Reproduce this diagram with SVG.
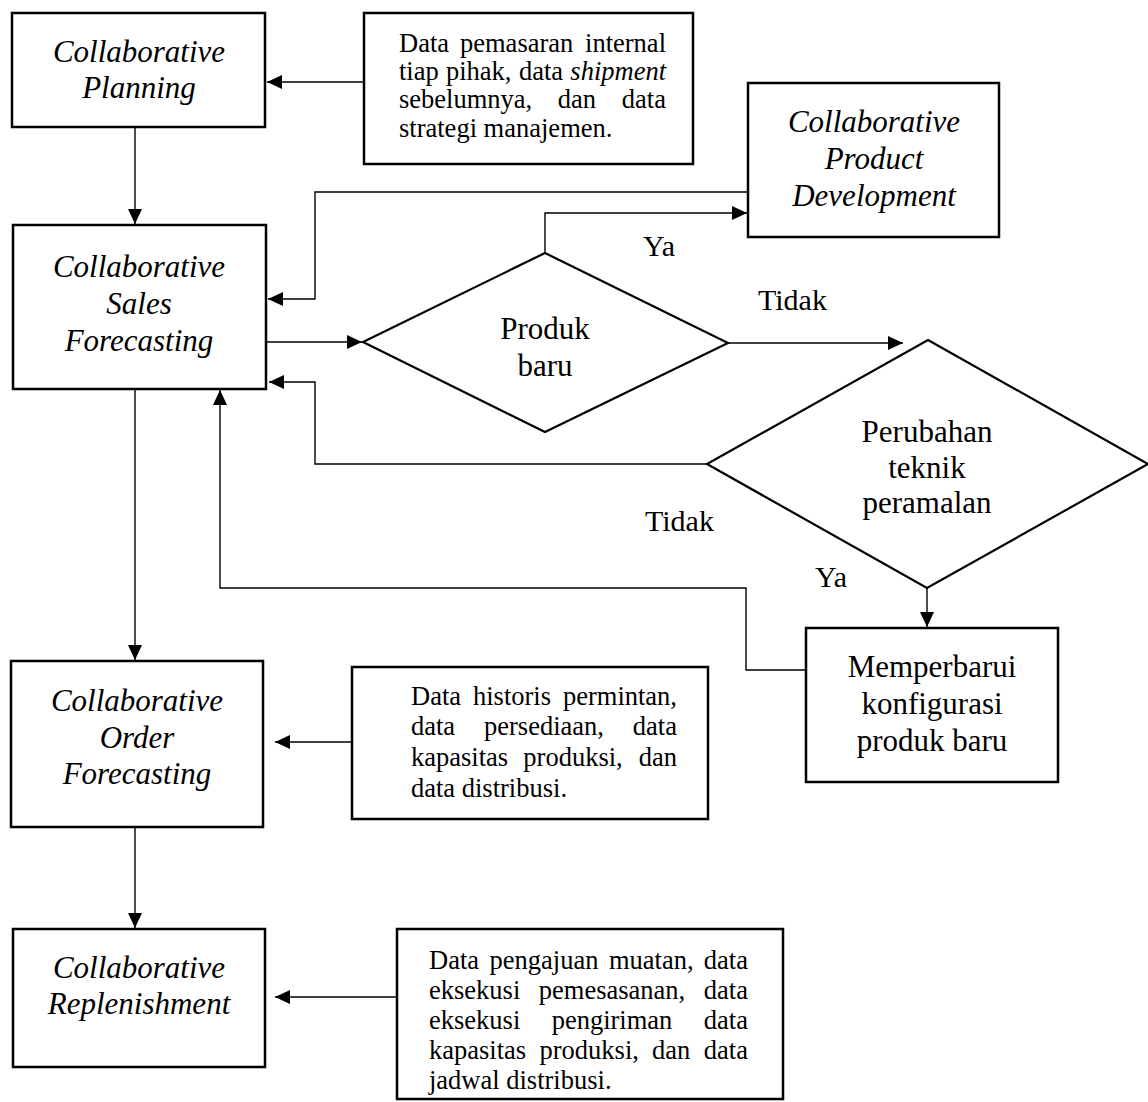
<svg xmlns="http://www.w3.org/2000/svg" width="1148" height="1102" viewBox="0 0 1148 1102">
<style>
.box{fill:#fff;stroke:#000;stroke-width:2.5}
.dia{fill:#fff;stroke:#000;stroke-width:2.2}
.con{fill:none;stroke:#000;stroke-width:1.4}
.it{font-family:"Liberation Serif","Times New Roman",serif;font-style:italic;font-size:31px;text-anchor:middle;fill:#000}
.rg{font-family:"Liberation Serif","Times New Roman",serif;font-size:31px;text-anchor:middle;fill:#000}
.lb{font-family:"Liberation Serif","Times New Roman",serif;font-size:30px;fill:#000}
.dt{font-family:"Liberation Serif","Times New Roman",serif;font-size:26.5px;fill:#000}
.e{text-anchor:end}
.m{text-anchor:middle}
</style>
<defs>
<marker id="ah" markerUnits="userSpaceOnUse" markerWidth="16" markerHeight="14" refX="15" refY="7" orient="auto">
<path d="M0,0 L15,7 L0,14 z" fill="#000"/>
</marker>
</defs>
<rect width="1148" height="1102" fill="#fff"/>
<g id="connectors">
<path class="con" d="M364,82 H267" marker-end="url(#ah)"/>
<path class="con" d="M135,127 V224" marker-end="url(#ah)"/>
<path class="con" d="M748,192 H315 V299 H268" marker-end="url(#ah)"/>
<path class="con" d="M545,253 V213 H747" marker-end="url(#ah)"/>
<path class="con" d="M266,342 H362" marker-end="url(#ah)"/>
<path class="con" d="M728,343 H903" marker-end="url(#ah)"/>
<path class="con" d="M707,464 H315 V382 H269" marker-end="url(#ah)"/>
<path class="con" d="M927,588 V627" marker-end="url(#ah)"/>
<path class="con" d="M806,670 H746 V588 H220 V390" marker-end="url(#ah)"/>
<path class="con" d="M135,389 V660" marker-end="url(#ah)"/>
<path class="con" d="M352,742 H275" marker-end="url(#ah)"/>
<path class="con" d="M135,827 V928" marker-end="url(#ah)"/>
<path class="con" d="M397,997 H275" marker-end="url(#ah)"/>
</g>
<g id="planning">
<rect class="box" x="12" y="13" width="253" height="114"/>
<text class="it" x="139" y="62">Collaborative</text>
<text class="it" x="139" y="98">Planning</text>
</g>
<g id="data1">
<rect class="box" x="364" y="13" width="329" height="151"/>
<text class="dt" y="52"><tspan x="399">Data</tspan><tspan x="460">pemasaran</tspan><tspan x="666" text-anchor="end">internal</tspan></text>
<text class="dt" y="80"><tspan x="399">tiap</tspan><tspan x="446">pihak,</tspan><tspan x="519">data</tspan><tspan x="666" text-anchor="end" font-style="italic">shipment</tspan></text>
<text class="dt" y="108"><tspan x="399">sebelumnya,</tspan><tspan x="577" text-anchor="middle">dan</tspan><tspan x="666" text-anchor="end">data</tspan></text>
<text class="dt" x="399" y="137">strategi manajemen.</text>
</g>
<g id="sales">
<rect class="box" x="13" y="225" width="253" height="164"/>
<text class="it" x="139" y="277">Collaborative</text>
<text class="it" x="139" y="314">Sales</text>
<text class="it" x="139" y="351">Forecasting</text>
</g>
<g id="cpd">
<rect class="box" x="748" y="83" width="251" height="154"/>
<text class="it" x="874" y="132">Collaborative</text>
<text class="it" x="874" y="169">Product</text>
<text class="it" x="874" y="206">Development</text>
</g>
<g id="produk-baru">
<polygon class="dia" points="545,253 728,343 545,432 363,342"/>
<text class="rg" x="545" y="339">Produk</text>
<text class="rg" x="545" y="376">baru</text>
</g>
<g id="perubahan">
<polygon class="dia" points="928,340 1148,464 927,588 707,464"/>
<text class="rg" x="927" y="442">Perubahan</text>
<text class="rg" x="927" y="478">teknik</text>
<text class="rg" x="927" y="513">peramalan</text>
</g>
<g id="labels">
<text class="lb" x="643" y="256">Ya</text>
<text class="lb" x="758" y="310">Tidak</text>
<text class="lb" x="645" y="531">Tidak</text>
<text class="lb" x="815" y="587">Ya</text>
</g>
<g id="memperbarui">
<rect class="box" x="806" y="628" width="252" height="154"/>
<text class="rg" x="932" y="677">Memperbarui</text>
<text class="rg" x="932" y="714">konfigurasi</text>
<text class="rg" x="932" y="751">produk baru</text>
</g>
<g id="order">
<rect class="box" x="11" y="661" width="252" height="166"/>
<text class="it" x="137" y="711">Collaborative</text>
<text class="it" x="137" y="748">Order</text>
<text class="it" x="137" y="784">Forecasting</text>
</g>
<g id="data2">
<rect class="box" x="352" y="667" width="356" height="152"/>
<text class="dt" y="705"><tspan x="411">Data</tspan><tspan x="512" text-anchor="middle">historis</tspan><tspan x="677" text-anchor="end">permintan,</tspan></text>
<text class="dt" y="735"><tspan x="411">data</tspan><tspan x="544" text-anchor="middle">persediaan,</tspan><tspan x="677" text-anchor="end">data</tspan></text>
<text class="dt" y="766"><tspan x="411">kapasitas</tspan><tspan x="573" text-anchor="middle">produksi,</tspan><tspan x="677" text-anchor="end">dan</tspan></text>
<text class="dt" x="411" y="797">data distribusi.</text>
</g>
<g id="replenishment">
<rect class="box" x="13" y="929" width="252" height="138"/>
<text class="it" x="139" y="978">Collaborative</text>
<text class="it" x="139" y="1014">Replenishment</text>
</g>
<g id="data3">
<rect class="box" x="397" y="929" width="386" height="170"/>
<text class="dt" y="969"><tspan x="429">Data</tspan><tspan x="489.5">pengajuan</tspan><tspan x="609">muatan,</tspan><tspan x="748" text-anchor="end">data</tspan></text>
<text class="dt" y="999"><tspan x="429">eksekusi</tspan><tspan x="612" text-anchor="middle">pemesasanan,</tspan><tspan x="748" text-anchor="end">data</tspan></text>
<text class="dt" y="1029"><tspan x="429">eksekusi</tspan><tspan x="612" text-anchor="middle">pengiriman</tspan><tspan x="748" text-anchor="end">data</tspan></text>
<text class="dt" y="1059"><tspan x="429">kapasitas</tspan><tspan x="539.5">produksi,</tspan><tspan x="652">dan</tspan><tspan x="748" text-anchor="end">data</tspan></text>
<text class="dt" x="429" y="1089">jadwal distribusi.</text>
</g>
</svg>
